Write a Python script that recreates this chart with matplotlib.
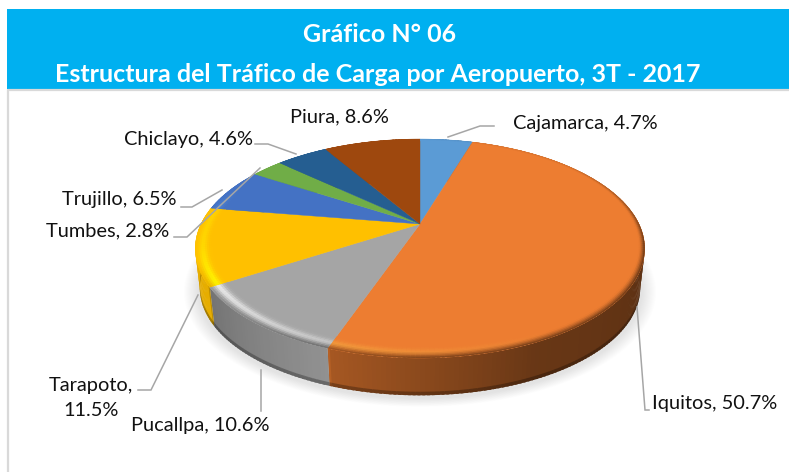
import matplotlib
matplotlib.use('Agg')
import numpy as np
import matplotlib.pyplot as plt
from matplotlib.collections import PolyCollection
from matplotlib.colors import to_rgb
from matplotlib.patches import Rectangle, Polygon

# Dades del gràfic
aeropuertos = ['Cajamarca', 'Iquitos', 'Pucallpa', 'Tarapoto', 'Trujillo', 'Tumbes', 'Chiclayo', 'Piura']
valores = [4.7, 50.7, 10.6, 11.5, 6.5, 2.8, 4.6, 8.6]
colores = ['#5B9BD5', '#ED7D31', '#A5A5A5', '#FFC000', '#4472C4', '#70AD47', '#255E91', '#9E480E']
titulo = ['Gráfico N° 06', 'Estructura del Tráfico de Carga por Aeropuerto, 3T - 2017']

FUENTE = 'Lato'
CX, CY = 420.0, 224.0   # on es troben les porcions
A, B, K = 219.0, 104.0, 0.224   # perspectiva del disc
GRUIX = 40.0


def proj(r, ang, dy=0.0, esc=1.0):
    t = np.radians(ang)
    x, y = r * np.sin(t), r * np.cos(t)
    w = 1 + K * y
    return np.column_stack([CX + esc * A * x / w, CY - esc * B * y / w + dy])


fig = plt.figure(figsize=(7.89, 4.72), dpi=100)
ax = fig.add_axes([0, 0, 1, 1])
ax.set_xlim(0, 789)
ax.set_ylim(472, 0)
ax.axis('off')

# Capçalera i marc
ax.add_patch(Rectangle((7, 9), 782, 80, color='#00B0F0', lw=0))
ax.plot([8, 8, 789], [472, 90, 90], color='#D9D9D9', lw=1.6)
ax.text(380, 34, titulo[0], color='white', fontsize=18, fontweight='bold', family=FUENTE, ha='center', va='center')
ax.text(378, 75, titulo[1], color='white', fontsize=18, fontweight='bold', family=FUENTE, ha='center', va='center')

# Ombra
angs = np.linspace(0, 360, 181)
for m in np.linspace(1.05, 0.99, 14):
    ax.add_patch(Polygon(proj(1, angs, GRUIX + 2, m), closed=True, color='#808080', alpha=0.014, lw=0))

bordes = np.concatenate([[0], np.cumsum(valores)]) * 3.6 * 100 / np.sum(valores)


def factor_lateral(a):
    return np.interp(a, [0, 95, 155, 199, 199.5, 238, 238.5, 360],
                     [.38, .38, .44, .70, .88, .70, .90, .90])


# Cara lateral: franges verticals, solapades perquè no es vegin les juntes
for a0, a1, c in zip(bordes[:-1], bordes[1:], colores):
    base = np.array(to_rgb(c))
    pasos = np.append(np.arange(a0, a1, 1.0), a1)
    quads, cols = [], []
    for p0, p1 in zip(pasos[:-1], pasos[1:]):
        f = factor_lateral((p0 + p1) / 2)
        fin = min(p1 + 0.6, a1)
        quads.append(np.vstack([proj(1, [p0, fin]), proj(1, [fin, p0], GRUIX * 0.93, 0.98)]))
        cols.append(base * f)
        quads.append(np.vstack([proj(1, [p0, fin], GRUIX * 0.91, 0.98), proj(1, [fin, p0], GRUIX, 0.98)]))
        cols.append(base * f * 0.72)
    ax.add_collection(PolyCollection(quads, facecolors=cols, edgecolors='none'))

# Cara superior
for a0, a1, c in zip(bordes[:-1], bordes[1:], colores):
    arc = proj(1, np.linspace(a0, a1, 100))
    ax.add_patch(Polygon(np.vstack([[CX, CY], arc]), closed=True, color=c, lw=0.3))


# Bisell
def llum(a):
    return np.interp(a, [0, 150, 200, 240, 258, 278, 292, 360], [0, 0, .38, .8, .38, .25, 0, 0])


def fosc(a):
    return np.interp(a, [0, 50, 100, 180, 225, 250, 360], [.03, .12, .6, .5, .2, 0, 0])


def ample(a):
    return np.interp(a, [0, 60, 100, 180, 360], [.03, .03, .045, .075, .075])


nr = 9
for a0, a1, c in zip(bordes[:-1], bordes[1:], colores):
    base = np.array(to_rgb(c))
    clar = np.minimum(1, base * 1.6)
    pasos = np.append(np.arange(a0, a1, 1.0), a1)
    quads, cols = [], []
    for p0, p1 in zip(pasos[:-1], pasos[1:]):
        a = (p0 + p1) / 2
        fin = min(p1 + 0.6, a1)
        w = ample(a)
        for j in range(nr):
            t0, t1 = j / nr, (j + 1) / nr
            r0, r1 = 1 - w + w * t0, 1 - w + w * min(1, t1 + 0.08)
            t = (t0 + t1) / 2
            col = base + (clar - base) * llum(a) * np.exp(-((t - .55) / .25) ** 2)
            col = col * (1 - fosc(a) * np.clip((t - .45) / .55, 0, 1) ** 1.5)
            quads.append(np.vstack([proj(r0, [p0, fin]), proj(r1, [fin, p0])]))
            cols.append(col)
    ax.add_collection(PolyCollection(quads, facecolors=cols, edgecolors='none'))

# Línies guia
guies = [
    ([448, 480, 494], [137, 126, 126]),
    ([255, 268, 296], [144, 144, 154]),
    ([181, 192, 222], [207, 207, 190]),
    ([174, 187, 260], [237, 237, 168]),
    ([138, 151, 198], [390, 390, 295]),
    ([261, 261], [370, 411]),
    ([637, 645, 649], [307, 410, 410]),
]
for xs, ys in guies:
    ax.plot(xs, ys, color='#A6A6A6', lw=1.1, solid_joinstyle='miter')

# Etiquetes
etiquetes = [
    (513, 123, 'left', 'Cajamarca, 4.7%'),
    (652, 403, 'left', 'Iquitos, 50.7%'),
    (131, 425, 'left', 'Pucallpa, 10.6%'),
    (91, 398, 'center', 'Tarapoto,\n11.5%'),
    (62, 200, 'left', 'Trujillo, 6.5%'),
    (46, 231, 'left', 'Tumbes, 2.8%'),
    (124, 139, 'left', 'Chiclayo, 4.6%'),
    (290, 117, 'left', 'Piura, 8.6%'),
]
for x, y, ha, s in etiquetes:
    ax.text(x, y, s, fontsize=14.4, family=FUENTE, color='#111111', ha=ha, va='center', linespacing=1.5, multialignment='center')

fig.savefig('out.png', dpi=100)
